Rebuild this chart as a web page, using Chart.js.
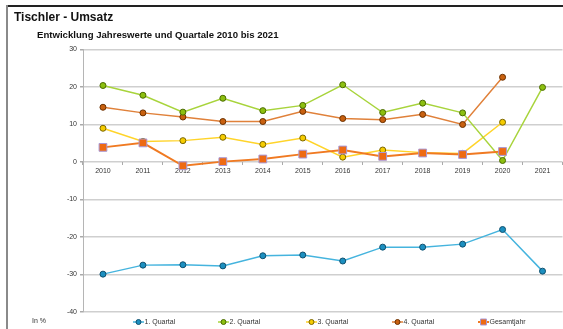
<!DOCTYPE html>
<html>
<head>
<meta charset="utf-8">
<script src="https://cdn.jsdelivr.net/npm/chart.js@4/dist/chart.umd.min.js"></script>
<style>
  html, body { margin: 0; padding: 0; background: #fff; }
  #wrap { position: relative; width: 563px; height: 329px; overflow: hidden; }
  #frameTop { position: absolute; left: 7px; top: 5px; width: 556px; height: 2px; background: #222; }
  #frameLeft { position: absolute; left: 6px; top: 5px; width: 2px; height: 324px; background: #8a8a8a; }
  #title { position: absolute; left: 14px; top: 10px; font: bold 12px "Liberation Sans", Arial, sans-serif; color: #111; white-space: nowrap; }
  #subtitle { position: absolute; left: 37px; top: 29px; font: bold 9.6px "Liberation Sans", Arial, sans-serif; color: #111; white-space: nowrap; }
  canvas { position: absolute; left: 0; top: 0; }
</style>
</head>
<body>
<div id="wrap">
  <canvas id="c" width="569" height="329"></canvas>
  <div id="frameTop"></div>
  <div id="frameLeft"></div>
  <div id="title">Tischler - Umsatz</div>
  <div id="subtitle">Entwicklung Jahreswerte und Quartale 2010 bis 2021</div>
</div>
<script>
const years = ['2010','2011','2012','2013','2014','2015','2016','2017','2018','2019','2020','2021'];
const q1 = [-29.9, -27.5, -27.4, -27.7, -25.0, -24.8, -26.4, -22.7, -22.7, -21.9, -18.0, -29.1];
const q2 = [20.4, 17.8, 13.3, 17.0, 13.7, 15.1, 20.6, 13.2, 15.7, 13.1, 0.4, 19.9];
const q3 = [9.0, 5.5, 5.7, 6.6, 4.7, 6.4, 1.3, 3.2, 2.5, 2.3, 10.6, null];
const q4 = [14.6, 13.1, 12.0, 10.8, 10.8, 13.5, 11.6, 11.3, 12.7, 10.0, 22.6, null];
const gesamt = [3.9, 5.1, -1.0, 0.1, 0.8, 2.1, 3.2, 1.5, 2.4, 2.0, 2.8, null];
const seriesNames = ['1. Quartal', '2. Quartal', '3. Quartal', '4. Quartal', 'Gesamtjahr'];
const unitLabel = 'In %';

const FONT = '"Liberation Sans", Arial, sans-serif';

function ds(label, data, line, fill, border, opts) {
  return Object.assign({
    label, data,
    borderColor: line, borderWidth: 1.5,
    pointBackgroundColor: fill, pointBorderColor: border, pointBorderWidth: 1,
    pointRadius: 3, pointHoverRadius: 3, pointStyle: 'circle',
    tension: 0, spanGaps: false, order: 1
  }, opts || {});
}

const datasets = [
  ds(seriesNames[0], q1, '#45b4de', '#1c8fc0', '#10506e'),
  ds(seriesNames[1], q2, '#a8d43c', '#8cbf10', '#4a6a00'),
  ds(seriesNames[2], q3, '#ffd42a', '#f5cc00', '#7a6500'),
  ds(seriesNames[3], q4, '#e0813a', '#c8600f', '#6a3000'),
  ds(seriesNames[4], gesamt, '#f07a22', '#ee6a12', '#a898d8', { borderWidth: 2, pointStyle: 'rect', pointRadius: 5.5, pointHoverRadius: 5.5, order: 0 })
];

const legendPlugin = {
  id: 'customLegend',
  afterDraw(chart) {
    const ctx = chart.ctx;
    const y = 322;
    const starts = [133, 218, 306, 392, 478];
    ctx.save();
    ctx.font = '7px ' + FONT;
    ctx.fillStyle = '#333';
    ctx.textBaseline = 'middle';
    ctx.textAlign = 'left';
    ctx.fillText(unitLabel, 32, 321);
    chart.data.datasets.forEach((d, i) => {
      const x0 = starts[i];
      ctx.strokeStyle = d.borderColor;
      ctx.lineWidth = d.borderWidth;
      ctx.beginPath();
      ctx.moveTo(x0, y);
      ctx.lineTo(x0 + 11, y);
      ctx.stroke();
      ctx.fillStyle = d.pointBackgroundColor;
      ctx.strokeStyle = d.pointBorderColor;
      ctx.lineWidth = 1;
      ctx.beginPath();
      if (d.pointStyle === 'rect') {
        ctx.rect(x0 + 5.5 - 3, y - 3, 6, 6);
      } else {
        ctx.arc(x0 + 5.5, y, 2.5, 0, Math.PI * 2);
      }
      ctx.fill();
      ctx.stroke();
      ctx.fillStyle = '#333';
      ctx.fillText(d.label, x0 + 11.5, y);
    });
    ctx.restore();
  }
};

new Chart(document.getElementById('c'), {
  type: 'line',
  data: { labels: years, datasets },
  options: {
    responsive: false,
    animation: false,
    events: [],
    layout: { padding: { top: 49.5, bottom: 17, left: 0, right: 0 } },
    plugins: { legend: { display: false }, title: { display: false }, tooltip: { enabled: false } },
    scales: {
      y: {
        min: -40, max: 30,
        ticks: { stepSize: 10, color: '#333', font: { family: FONT, size: 7 }, padding: 3 },
        grid: { color: '#cfcfcf', lineWidth: 1.5, tickLength: 3, tickColor: '#aaa' },
        border: { display: true, color: '#b5b5b5', width: 1 },
        afterFit(scale) { scale.width = 83; }
      },
      x: {
        position: { y: 0 },
        offset: true,
        ticks: { color: '#333', font: { family: FONT, size: 7 }, padding: 2, maxRotation: 0, autoSkip: false },
        grid: { offset: true, drawOnChartArea: false, tickLength: 3, tickColor: '#aaa', lineWidth: 1 },
        border: { display: false }
      }
    }
  },
  plugins: [legendPlugin]
});
</script>
</body>
</html>
